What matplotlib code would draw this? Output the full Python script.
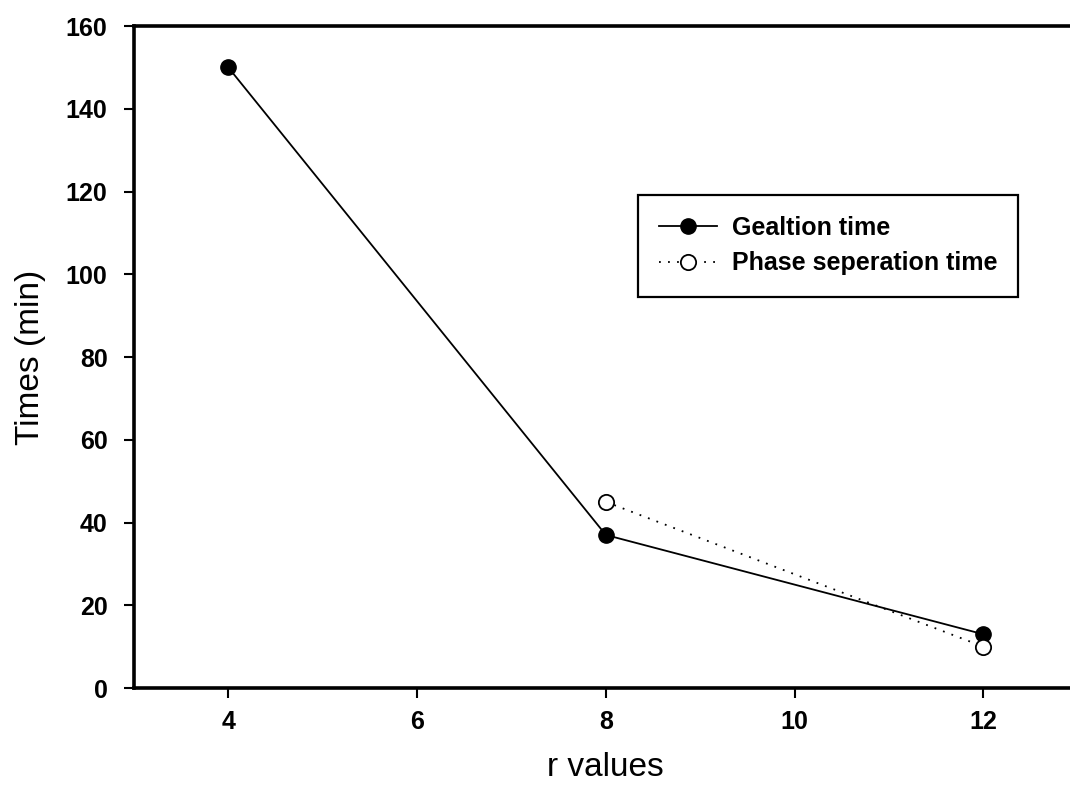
import matplotlib.pyplot as plt

r_gel = [4, 8, 12]
t_gel = [150, 37, 13]

r_phase = [8, 12]
t_phase = [45, 10]

plt.rcParams['font.family'] = ['Liberation Sans', 'DejaVu Sans']

fig = plt.figure(figsize=(10.7, 7.98), dpi=100)
ax = fig.add_axes([0.1252, 0.1378, 0.882, 0.8295])

ax.plot(r_gel, t_gel, color='black', linestyle='-', linewidth=1.3,
        marker='o', markersize=11, markerfacecolor='black',
        markeredgecolor='black', label='Gealtion time')
ax.plot(r_phase, t_phase, color='black', linestyle=(0, (1, 4)), linewidth=1.3,
        marker='o', markersize=11, markerfacecolor='white',
        markeredgecolor='black', markeredgewidth=1.3, label='Phase seperation time')

ax.set_xlim(3, 13)
ax.set_ylim(0, 160)
ax.set_xticks([4, 6, 8, 10, 12])
ax.set_yticks(range(0, 161, 20))

ax.spines['right'].set_visible(False)
for s in ['left', 'bottom', 'top']:
    ax.spines[s].set_linewidth(2.6)

ax.tick_params(axis='both', direction='out', length=7, width=1.5, labelsize=18)
ax.tick_params(axis='x', pad=9)
ax.tick_params(axis='y', pad=12)
for lbl in ax.get_xticklabels() + ax.get_yticklabels():
    lbl.set_fontweight('bold')

ax.set_xlabel('r values', fontsize=24)
ax.xaxis.set_label_coords(0.5, -0.096)
ax.set_ylabel('Times (min)', fontsize=24)
ax.yaxis.set_label_coords(-0.093, 0.5)

leg = ax.legend(loc='upper left', bbox_to_anchor=(0.534, 0.745),
                borderaxespad=0, frameon=True, fancybox=False, edgecolor='black',
                prop={'size': 18, 'weight': 'bold'}, handlelength=2.3,
                handletextpad=0.6, borderpad=0.85, labelspacing=0.45)
leg.get_frame().set_linewidth(1.6)
leg.get_frame().set_alpha(1)

fig.savefig('out.png', dpi=100)
